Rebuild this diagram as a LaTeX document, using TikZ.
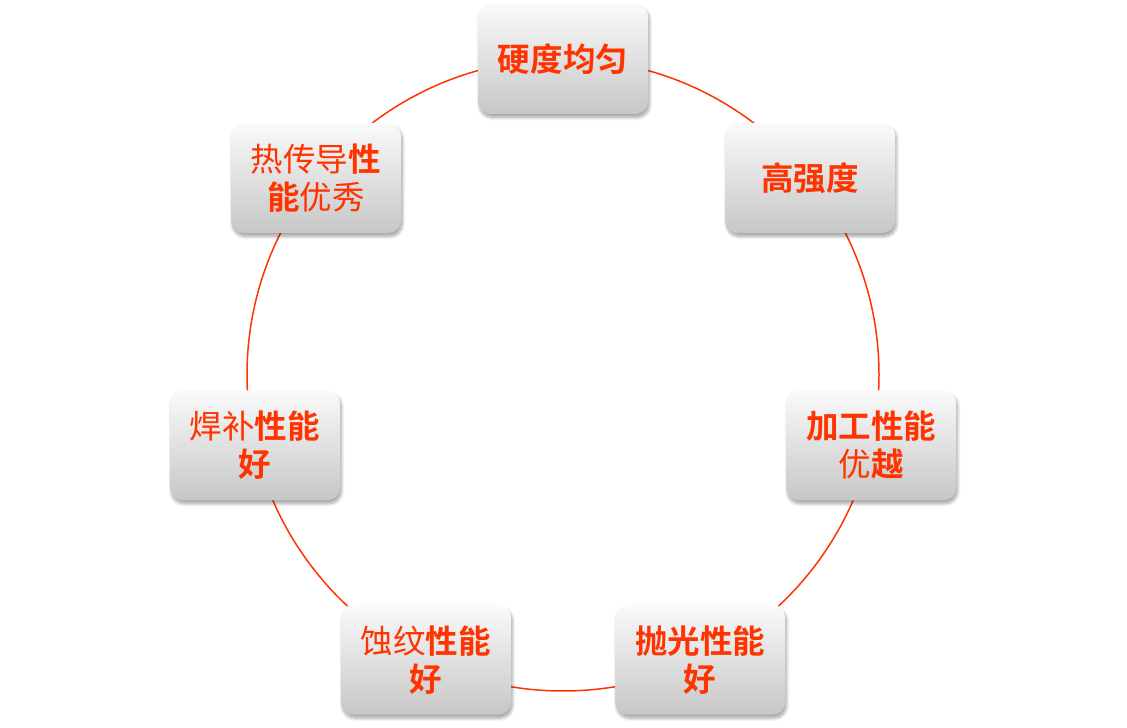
\documentclass[tikz,border=0pt]{standalone}
\usepackage{fontspec}
\newfontfamily\cjk{Noto Sans CJK SC}[BoldFont={Noto Sans CJK SC Bold}]
\usetikzlibrary{calc,shadows.blur}
\definecolor{ringred}{RGB}{255,51,0}
\newcommand{\rg}[1]{{\mdseries #1}}
\newcommand{\bd}[1]{{\bfseries #1}}

\begin{document}
\begin{tikzpicture}[
  cell/.style={rounded corners=0.25cm, minimum width=3.4cm, minimum height=2.2cm,
    top color=black!2, bottom color=black!22, draw=none, align=center,
    blur shadow={shadow xshift=0.03cm, shadow yshift=-0.07cm, shadow blur steps=8, shadow opacity=35},
    text=ringred, font=\cjk\fontsize{18.5}{21.6}\selectfont}]
  \useasboundingbox (0,0) rectangle (22.54,14.56);
  \coordinate (O) at (11.26,7.06);
  % ring behind the cells
  \draw[ringred, line width=0.85pt] (O) circle (6.32);
  \foreach \a/\n/\t in {
      90/hard/{\bd{硬度均匀}},
      38.57/strong/{\bd{高强度}},
      -12.86/machine/{\bd{加工性能}\\\rg{优}\bd{越}},
      -64.29/polish/{\bd{抛光性能}\\\bd{好}},
      -115.71/etch/{\rg{蚀纹}\bd{性能}\\\bd{好}},
      -167.14/weld/{\rg{焊补}\bd{性能}\\\bd{好}},
      141.43/heat/{\rg{热传导}\bd{性}\\\bd{能}\rg{优秀}}}
    \node[cell] (\n) at ($(O)+(\a:6.32)$) {\t};
\end{tikzpicture}
\end{document}
